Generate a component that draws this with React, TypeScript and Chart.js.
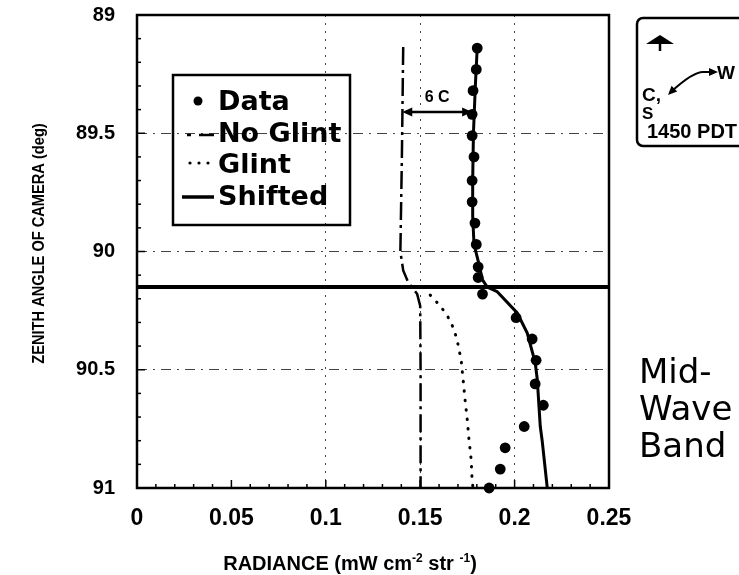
import React, { useEffect, useRef } from 'react';
import { Chart, registerables } from 'chart.js';

Chart.register(...registerables);

// ---- axis ticks ----
const xTicks = [0, 0.05, 0.1, 0.15, 0.2, 0.25];
const xTickLabels = ['0', '0.05', '0.1', '0.15', '0.2', '0.25'];
const yTicks = [89, 89.5, 90, 90.5, 91];
const yTickLabels = ['89', '89.5', '90', '90.5', '91'];
const xGridValues = [0.1, 0.15, 0.2];
const yGridValues = [89.5, 90, 90.5];

// ---- series ----
const seriesLabels = ['Data', 'No Glint', 'Glint', 'Shifted'];

const dataX = [0.1802, 0.1797, 0.178, 0.1775, 0.1775, 0.1785, 0.1775, 0.1775, 0.179, 0.1797, 0.1807, 0.1807, 0.183, 0.2008, 0.2093, 0.2114, 0.2109, 0.2152, 0.2051, 0.195, 0.1924, 0.1865];
const dataY = [89.14, 89.23, 89.32, 89.42, 89.51, 89.6, 89.7, 89.79, 89.88, 89.97, 90.065, 90.11, 90.18, 90.28, 90.37, 90.46, 90.56, 90.65, 90.74, 90.83, 90.92, 91.0];

const noGlintX = [0.141, 0.1403, 0.1395, 0.141, 0.1436, 0.1484, 0.15, 0.1502, 0.1502];
const noGlintY = [89.135, 89.6, 90.0, 90.08, 90.13, 90.18, 90.23, 90.5, 91.0];

const glintX = [0.1553, 0.1606, 0.1643, 0.168, 0.1701, 0.1717, 0.1727, 0.1738, 0.1749, 0.1759, 0.177, 0.1775, 0.178];
const glintY = [90.184, 90.23, 90.27, 90.33, 90.395, 90.46, 90.54, 90.63, 90.71, 90.8, 90.88, 90.97, 91.0];

const shiftedX = [0.1802, 0.1792, 0.1782, 0.1778, 0.1778, 0.1785, 0.1807, 0.183, 0.1855, 0.1908, 0.2014, 0.2067, 0.2109, 0.212, 0.2136, 0.2146, 0.2173];
const shiftedY = [89.14, 89.3, 89.5, 89.7, 89.85, 89.97, 90.04, 90.12, 90.15, 90.17, 90.26, 90.345, 90.47, 90.54, 90.74, 90.8, 91.0];

const horizonY = 90.15;

// ---- annotation ----
const deltaLabel = '6 C';
const deltaFromX = 0.1405;
const deltaToX = 0.1775;
const deltaY = 89.41;
const bandLabel = ['Mid-', 'Wave', 'Band'];
const compassTexts = ['W', 'C,', 'S', '1450 PDT'];
const xTitle = ['RADIANCE (mW cm', '-2', ' str ', '-1', ')'];
const yTitle = 'ZENITH ANGLE OF CAMERA (deg)';

const pts = (xs: number[], ys: number[]) => xs.map((x, i) => ({ x, y: ys[i] }));

const BLACK = '#000';
const TICK_FONT = '"Liberation Sans", Arial, sans-serif';

function arrowHead(ctx: CanvasRenderingContext2D, x: number, y: number, angle: number, len: number, half: number) {
  ctx.save();
  ctx.translate(x, y);
  ctx.rotate(angle);
  ctx.beginPath();
  ctx.moveTo(0, 0);
  ctx.lineTo(-len, -half);
  ctx.lineTo(-len, half);
  ctx.closePath();
  ctx.fill();
  ctx.restore();
}

const decorPlugin = {
  id: 'decor',
  afterDraw(chart: any) {
    const ctx: CanvasRenderingContext2D = chart.ctx;
    const { left, top, right, bottom } = chart.chartArea;
    const xs = chart.scales.x;
    const ys = chart.scales.y;
    ctx.save();
    ctx.fillStyle = BLACK;
    ctx.strokeStyle = BLACK;
    ctx.setLineDash([]);

    // frame
    ctx.lineWidth = 2.5;
    ctx.strokeRect(left, top, right - left, bottom - top);

    // inside ticks on x
    ctx.lineWidth = 1.5;
    for (let k = 1; k < 25; k++) {
      const v = k / 100;
      const px = xs.getPixelForValue(v);
      const len = k % 5 === 0 ? 8 : 4;
      ctx.beginPath();
      ctx.moveTo(px, bottom);
      ctx.lineTo(px, bottom - len);
      ctx.stroke();
    }
    // inside ticks on y
    for (let k = 1; k < 20; k++) {
      const v = 89 + k / 10;
      const py = ys.getPixelForValue(v);
      const len = k % 5 === 0 ? 8 : 4;
      ctx.beginPath();
      ctx.moveTo(left, py);
      ctx.lineTo(left + len, py);
      ctx.stroke();
    }

    // delta arrow
    const ax1 = xs.getPixelForValue(deltaFromX);
    const ax2 = xs.getPixelForValue(deltaToX);
    const ay = ys.getPixelForValue(deltaY);
    ctx.lineWidth = 2.5;
    ctx.beginPath();
    ctx.moveTo(ax1 + 4, ay);
    ctx.lineTo(ax2 - 4, ay);
    ctx.stroke();
    arrowHead(ctx, ax1, ay, Math.PI, 10, 4.5);
    arrowHead(ctx, ax2, ay, 0, 10, 4.5);
    ctx.font = `bold 16px ${TICK_FONT}`;
    ctx.textAlign = 'center';
    ctx.textBaseline = 'alphabetic';
    ctx.fillText(deltaLabel, (ax1 + ax2) / 2, ay - 10);

    // legend box
    const lx = left + 36;
    const ly = top + 60;
    ctx.lineWidth = 2.5;
    ctx.strokeRect(lx, ly, 177, 150);
    ctx.font = 'bold 27px "DejaVu Sans", sans-serif';
    ctx.textAlign = 'left';
    const tx = lx + 45;
    const baselines = [35, 67, 98, 130];
    seriesLabels.forEach((lab, i) => ctx.fillText(lab, tx, ly + baselines[i]));
    // symbols
    ctx.beginPath();
    ctx.arc(lx + 25, ly + 26, 4.5, 0, Math.PI * 2);
    ctx.fill();
    ctx.lineWidth = 2.5;
    ctx.beginPath();
    ctx.moveTo(lx + 14, ly + 60);
    ctx.lineTo(lx + 18, ly + 60);
    ctx.moveTo(lx + 26, ly + 60);
    ctx.lineTo(lx + 41, ly + 60);
    ctx.stroke();
    [17, 26, 35].forEach((dx) => {
      ctx.beginPath();
      ctx.arc(lx + dx, ly + 88, 1.6, 0, Math.PI * 2);
      ctx.fill();
    });
    ctx.lineWidth = 3.5;
    ctx.beginPath();
    ctx.moveTo(lx + 9, ly + 122);
    ctx.lineTo(lx + 41, ly + 122);
    ctx.stroke();

    // band label
    ctx.font = '34px "DejaVu Sans", sans-serif';
    ctx.textAlign = 'left';
    const bx = right + 30;
    [383, 420, 457].forEach((b, i) => ctx.fillText(bandLabel[i], bx, b));

    // compass box
    const cx = right + 28;
    ctx.lineWidth = 2.5;
    ctx.beginPath();
    ctx.roundRect(cx, 18, 130, 128, 6);
    ctx.stroke();
    ctx.beginPath();
    ctx.moveTo(cx + 23, 35);
    ctx.lineTo(cx + 9, 44);
    ctx.lineTo(cx + 37, 44);
    ctx.closePath();
    ctx.fill();
    ctx.beginPath();
    ctx.moveTo(cx + 23, 44);
    ctx.lineTo(cx + 23, 51);
    ctx.stroke();
    ctx.lineWidth = 2;
    ctx.beginPath();
    ctx.moveTo(cx + 35, 91);
    ctx.quadraticCurveTo(cx + 56, 72, cx + 66, 72);
    ctx.lineTo(cx + 74, 72);
    ctx.stroke();
    arrowHead(ctx, cx + 31, 95, Math.atan2(4, -4), 9, 4);
    arrowHead(ctx, cx + 81, 72, 0, 9, 4);
    ctx.font = `bold 19px ${TICK_FONT}`;
    ctx.fillText(compassTexts[0], cx + 80, 79);
    ctx.fillText(compassTexts[1], cx + 5, 101);
    ctx.font = `bold 17px ${TICK_FONT}`;
    ctx.fillText(compassTexts[2], cx + 5, 119);
    ctx.font = `bold 20px ${TICK_FONT}`;
    ctx.fillText(compassTexts[3], cx + 10, 138);

    // x axis title with superscripts
    const big = `bold 20px ${TICK_FONT}`;
    const small = `bold 12px ${TICK_FONT}`;
    let total = 0;
    xTitle.forEach((s, i) => {
      ctx.font = i % 2 === 1 ? small : big;
      total += ctx.measureText(s).width;
    });
    let px = (left + right) / 2 - 23 - total / 2;
    const base = 570;
    xTitle.forEach((s, i) => {
      ctx.font = i % 2 === 1 ? small : big;
      ctx.fillText(s, px, i % 2 === 1 ? base - 8 : base);
      px += ctx.measureText(s).width;
    });

    // y axis title
    ctx.save();
    ctx.translate(39, (top + bottom) / 2 - 8);
    ctx.rotate(-Math.PI / 2);
    ctx.scale(0.86, 1);
    ctx.font = `bold 17px ${TICK_FONT}`;
    ctx.textAlign = 'center';
    ctx.textBaseline = 'middle';
    ctx.fillText(yTitle, 0, 0);
    ctx.restore();

    ctx.restore();
  },
};

export default function App() {
  const ref = useRef<HTMLCanvasElement | null>(null);
  useEffect(() => {
    if (!ref.current) return;
    const chart = new Chart(ref.current, {
      type: 'scatter',
      data: {
        datasets: [
          {
            label: seriesLabels[0],
            data: pts(dataX, dataY),
            showLine: false,
            pointRadius: 5.4,
            pointBackgroundColor: BLACK,
            pointBorderColor: BLACK,
            pointBorderWidth: 0,
            clip: false,
            order: 0,
          },
          {
            label: seriesLabels[1],
            data: pts(noGlintX, noGlintY),
            showLine: true,
            pointRadius: 0,
            borderColor: BLACK,
            borderWidth: 2.5,
            borderDash: [18, 5, 3, 5],
            order: 2,
          },
          {
            label: seriesLabels[2],
            data: pts(glintX, glintY),
            showLine: true,
            pointRadius: 0,
            borderColor: BLACK,
            borderWidth: 3,
            borderDash: [0.5, 9],
            borderCapStyle: 'round',
            order: 2,
          },
          {
            label: seriesLabels[3],
            data: pts(shiftedX, shiftedY),
            showLine: true,
            pointRadius: 0,
            borderColor: BLACK,
            borderWidth: 3,
            order: 1,
          },
          {
            label: 'Horizon',
            data: [{ x: xTicks[0], y: horizonY }, { x: xTicks[xTicks.length - 1], y: horizonY }],
            showLine: true,
            pointRadius: 0,
            borderColor: BLACK,
            borderWidth: 4,
            order: 1,
          },
        ],
      } as any,
      options: {
        responsive: false,
        animation: false,
        layout: { padding: { left: 0, top: 15, right: 130, bottom: 0 } },
        plugins: { legend: { display: false }, tooltip: { enabled: false } },
        scales: {
          x: {
            type: 'linear',
            min: xTicks[0],
            max: xTicks[xTicks.length - 1],
            afterBuildTicks: (s: any) => {
              s.ticks = xTicks.map((v) => ({ value: v }));
            },
            afterFit: (s: any) => {
              s.height = 87;
              s.paddingLeft = 10;
              s.paddingRight = 10;
            },
            ticks: {
              autoSkip: false,
              maxRotation: 0,
              color: BLACK,
              padding: 17,
              font: { family: TICK_FONT, weight: 'bold', size: 23 },
              callback: (_v: any, i: number) => xTickLabels[i],
            },
            grid: {
              drawTicks: false,
              lineWidth: 1,
              color: (c: any) => (c.tick && xGridValues.includes(c.tick.value) ? '#444' : 'rgba(0,0,0,0)'),
            },
            border: { display: false, dash: [2, 6] },
          },
          y: {
            type: 'linear',
            reverse: true,
            min: yTicks[0],
            max: yTicks[yTicks.length - 1],
            afterBuildTicks: (s: any) => {
              s.ticks = yTicks.map((v) => ({ value: v }));
            },
            afterFit: (s: any) => {
              s.width = 137;
              s.paddingTop = 10;
              s.paddingBottom = 10;
            },
            ticks: {
              autoSkip: false,
              color: BLACK,
              padding: 22,
              font: { family: TICK_FONT, weight: 'bold', size: 20 },
              callback: (_v: any, i: number) => yTickLabels[i],
            },
            grid: {
              drawTicks: false,
              lineWidth: 1,
              color: (c: any) => (c.tick && yGridValues.includes(c.tick.value) ? '#444' : 'rgba(0,0,0,0)'),
            },
            border: { display: false, dash: [10, 6, 2, 6] },
          },
        },
      } as any,
      plugins: [decorPlugin],
    });
    return () => chart.destroy();
  }, []);
  return (
    <div style={{ position: 'fixed', left: 0, top: 0, width: 739, height: 575, background: '#fff' }}>
      <canvas ref={ref} width={739} height={575} style={{ display: 'block' }} />
    </div>
  );
}
